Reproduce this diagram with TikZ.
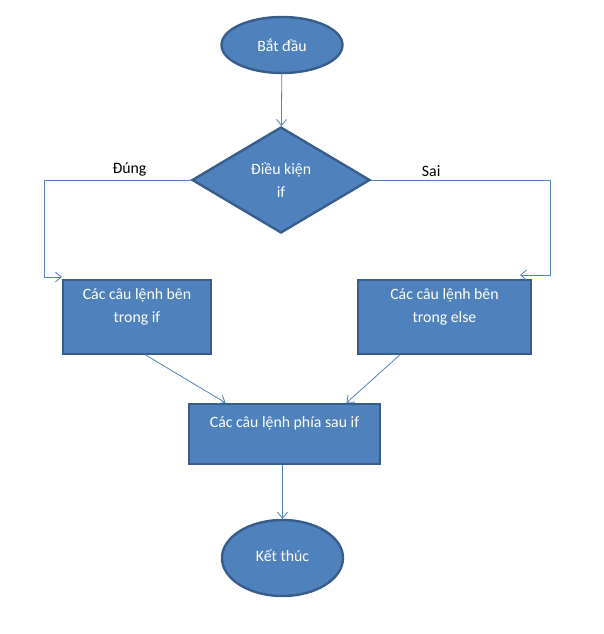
\documentclass[tikz,border=0pt]{standalone}
\usepackage{fontspec}
\setmainfont{Carlito}
\usetikzlibrary{shapes.geometric,arrows.meta}
\definecolor{wblue}{HTML}{4F81BD}
\definecolor{wrim}{HTML}{385D8A}
\begin{document}
\begin{tikzpicture}[x=1pt,y=-1pt,
  font=\fontsize{15.8}{23}\selectfont,
  blk/.style={draw=wrim, line width=2.4pt, fill=wblue, text=white, inner sep=0pt},
  term/.style={blk, ellipse, minimum width=121pt, minimum height=56pt},
  test/.style={blk, diamond, align=center, minimum width=178pt, minimum height=106pt},
  stmt/.style={blk, rectangle, align=center},
  link/.style={draw=wblue, line width=0.8pt, -{Straight Barb[length=6pt,width=10pt]}}]
\useasboundingbox (0,0) rectangle (604,634);
\node[term] (begin) at (282,45){Bắt đầu};
\node[test] (cond) at (281,180){Điều kiện\\if};
\node[stmt, minimum width=148pt, minimum height=74pt] (ifbox) at (137,317){Các câu lệnh bên\\trong if\\\mbox{}};
\node[stmt, minimum width=173pt, minimum height=74pt] (elsebox) at (444.5,317){Các câu lệnh bên\\trong else\\\mbox{}};
\node[stmt, minimum width=191pt, minimum height=60pt] (after) at (284.5,434){Các câu lệnh phía sau if\\\mbox{}};
\node[term, minimum height=76pt] (finish) at (282.5,558){\raisebox{5pt}{Kết thúc}};
\coordinate (intoif) at (62,277);
\coordinate (intoelse) at (520,275);
\draw[link](begin) -- (cond);
\draw[link](cond.west) -- node[above, pos=0.42]{Đúng} ++(-146,0) |- (intoif);
\draw[link](cond.east) -- node[above, pos=0.335]{Sai} ++(179,0) |- (intoelse);
\draw[link]([xshift=9pt]ifbox.south) -- ([xshift=-59pt]after.north);
\draw[link]([xshift=-45pt]elsebox.south) -- ([xshift=62pt]after.north);
\draw[link](after.south -| finish.north) -- (finish.north);
\end{tikzpicture}
\end{document}
